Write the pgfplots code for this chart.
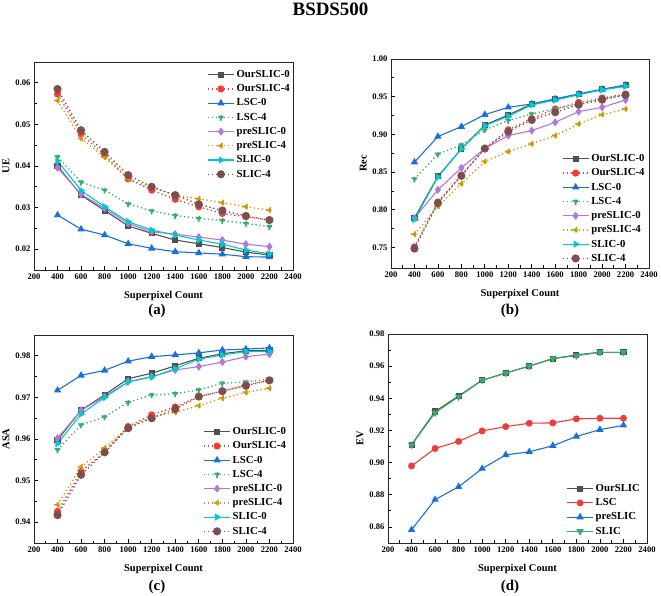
\documentclass[border=0pt]{standalone}
\usepackage{fontspec}
\setmainfont{Liberation Serif}
\usepackage{pgfplots}
\usepackage{pgfplotstable}
\pgfplotsset{compat=1.18}

\definecolor{cOur}{RGB}{80,80,80}
\definecolor{cRed}{RGB}{240,60,60}
\definecolor{cBlue}{RGB}{26,111,223}
\definecolor{cGreen}{RGB}{55,173,107}
\definecolor{cPurple}{RGB}{177,119,222}
\definecolor{cGold}{RGB}{204,153,0}
\definecolor{cCyan}{RGB}{0,203,204}
\definecolor{cBrown}{RGB}{125,78,78}

% UE, Rec, ASA: x, then the eight series
\pgfplotstableread{
x    Our0   Our4   LSC0   LSC4   pre0   pre4   SLIC0  SLIC4
400  0.0400 0.0573 0.0282 0.0422 0.0396 0.0557 0.0412 0.0585
600  0.0330 0.0477 0.0248 0.0361 0.0332 0.0466 0.0341 0.0486
800  0.0293 0.0426 0.0234 0.0342 0.0298 0.0421 0.0302 0.0434
1000 0.0256 0.0369 0.0213 0.0309 0.0262 0.0369 0.0266 0.0378
1200 0.0238 0.0342 0.0202 0.0292 0.0242 0.0348 0.0246 0.0350
1400 0.0222 0.0320 0.0194 0.0281 0.0236 0.0330 0.0234 0.0330
1600 0.0213 0.0302 0.0191 0.0274 0.0229 0.0321 0.0222 0.0308
1800 0.0204 0.0286 0.0188 0.0269 0.0222 0.0312 0.0212 0.0293
2000 0.0193 0.0278 0.0182 0.0262 0.0212 0.0302 0.0198 0.0280
2200 0.0186 0.0270 0.0181 0.0254 0.0206 0.0294 0.0189 0.0270
}\ue

\pgfplotstableread{
x    Our0   Our4   LSC0   LSC4   pre0   pre4   SLIC0  SLIC4
400  0.7890 0.7507 0.8631 0.8407 0.7890 0.7675 0.7869 0.7485
600  0.8442 0.8102 0.8971 0.8737 0.8265 0.8045 0.8433 0.8089
800  0.8808 0.8460 0.9103 0.8860 0.8556 0.8345 0.8808 0.8450
1000 0.9125 0.8812 0.9262 0.9059 0.8812 0.8640 0.9116 0.8812
1200 0.9257 0.9060 0.9359 0.9183 0.8984 0.8772 0.9240 0.9037
1400 0.9403 0.9210 0.9403 0.9271 0.9050 0.8874 0.9390 0.9191
1600 0.9469 0.9337 0.9469 0.9337 0.9160 0.8984 0.9455 0.9293
1800 0.9535 0.9425 0.9535 0.9403 0.9302 0.9138 0.9525 0.9394
2000 0.9597 0.9482 0.9597 0.9469 0.9359 0.9262 0.9590 0.9460
2200 0.9654 0.9535 0.9650 0.9526 0.9456 0.9337 0.9637 0.9522
}\rec

\pgfplotstableread{
x    Our0   Our4   LSC0   LSC4   pre0   pre4   SLIC0  SLIC4
400  0.9598 0.9426 0.9717 0.9574 0.9602 0.9442 0.9589 0.9417
600  0.9669 0.9522 0.9753 0.9634 0.9669 0.9533 0.9660 0.9514
800  0.9706 0.9569 0.9765 0.9653 0.9702 0.9578 0.9700 0.9568
1000 0.9745 0.9630 0.9787 0.9688 0.9738 0.9628 0.9737 0.9626
1200 0.9758 0.9658 0.9798 0.9706 0.9750 0.9653 0.9749 0.9650
1400 0.9776 0.9677 0.9802 0.9709 0.9766 0.9664 0.9769 0.9672
1600 0.9794 0.9702 0.9807 0.9718 0.9774 0.9680 0.9792 0.9702
1800 0.9805 0.9715 0.9814 0.9734 0.9785 0.9698 0.9802 0.9715
2000 0.9812 0.9730 0.9816 0.9737 0.9798 0.9712 0.9810 0.9728
2200 0.9813 0.9741 0.9819 0.9744 0.9804 0.9722 0.9810 0.9741
}\asa

\pgfplotstableread{
x    Our    LSC    pre    SLIC
400  0.9112 0.8979 0.8582 0.9109
600  0.9318 0.9088 0.8770 0.9310
800  0.9415 0.9132 0.8850 0.9410
1000 0.9512 0.9197 0.8963 0.9512
1200 0.9558 0.9224 0.9048 0.9556
1400 0.9600 0.9245 0.9067 0.9600
1600 0.9646 0.9247 0.9105 0.9648
1800 0.9670 0.9272 0.9163 0.9665
2000 0.9686 0.9276 0.9205 0.9686
2200 0.9686 0.9276 0.9232 0.9686
}\ev

\pgfplotsset{
  panel/.style={
    scale only axis, width=259bp, height=208bp,
    xmin=200, xmax=2400, xtick={200,400,...,2400}, minor x tick num=1,
    minor y tick num=1, scaled y ticks=false,
    tick pos=left, tick align=inside,
    major tick length=4bp, minor tick length=2.5bp,
    tick style={black, line width=0.7bp},
    axis line style={black!85, line width=0.8bp},
    /pgf/number format/assume math mode=true,
    ticklabel style={font=\bfseries\fontsize{8.6}{10}\selectfont},
    x tick label style={/pgf/number format/1000 sep={}},
    y tick label style={/pgf/number format/fixed, /pgf/number format/fixed zerofill,
      /pgf/number format/precision=2},
    label style={font=\bfseries\fontsize{10.5}{12}\selectfont},
    xlabel={Superpixel Count},
    xlabel style={at={(axis description cs:0.5,-0.125)}, anchor=center},
    ylabel style={at={(axis description cs:-0.108,0.5)}, anchor=center},
    legend style={draw=none, fill=none, font=\bfseries\fontsize{10.8}{12}\selectfont,
      cells={anchor=west}, row sep=1.6bp, inner sep=1bp},
    legend image code/.code={\draw[mark repeat=2,mark phase=2,#1]
      plot coordinates {(0bp,0bp) (13bp,0bp) (26bp,0bp)};},
  },
  s0/.style={solid, line width=1.1bp, mark options={solid}},
  s4/.style={line width=1.3bp, dash pattern=on 1.3bp off 2.7bp, mark options={solid}},
  eight/.style={
    legend entries={OurSLIC-0,OurSLIC-4,LSC-0,LSC-4,preSLIC-0,preSLIC-4,SLIC-0,SLIC-4},
  },
}

\newcommand{\eightplots}[1]{%
  \addplot[cOur, s0, mark=square*, mark size=2.5bp] table[x=x,y=Our0]{#1};
  \addplot[cRed, s4, mark=*, mark size=2.9bp] table[x=x,y=Our4]{#1};
  \addplot[cBlue, s0, mark=triangle*, mark size=3.2bp] table[x=x,y=LSC0]{#1};
  \addplot[cGreen, s4, mark=triangle*, mark size=3.2bp, mark options={rotate=180}] table[x=x,y=LSC4]{#1};
  \addplot[cPurple, s0, mark=diamond*, mark size=3.2bp] table[x=x,y=pre0]{#1};
  \addplot[cGold, s4, mark=triangle*, mark size=3.2bp, mark options={rotate=90}] table[x=x,y=pre4]{#1};
  \addplot[cCyan, s0, mark=triangle*, mark size=3.2bp, mark options={rotate=-90}] table[x=x,y=SLIC0]{#1};
  \addplot[cBrown, s4, mark=*, mark size=3.4bp] table[x=x,y=SLIC4]{#1};
}

\begin{document}
\begin{tikzpicture}
\path[use as bounding box] (0,0) rectangle (661bp,596bp);

\node[font=\bfseries\fontsize{19}{22}\selectfont, anchor=base] at (330.5bp,580bp) {BSDS500};

% (a) UE
\begin{axis}[panel, eight, at={(34bp,326bp)}, anchor=south west,
  ymin=0.015, ymax=0.065, ytick={0.02,0.03,...,0.06}, ylabel={UE},
  legend style={at={(axis description cs:1.0,0.975)}, anchor=north east}]
\eightplots{\ue}
\end{axis}

% (b) Rec
\begin{axis}[panel, eight, at={(391bp,328bp)}, anchor=south west, width=258bp, height=209bp,
  ymin=0.7227, ymax=1.0, ytick={0.75,0.80,...,1.0}, ylabel={Rec},
  legend style={at={(axis description cs:0.995,0.01)}, anchor=south east}]
\eightplots{\rec}
\end{axis}

% (c) ASA
\begin{axis}[panel, eight, at={(34bp,53bp)}, anchor=south west,
  ymin=0.935, ymax=0.985, ytick={0.94,0.95,...,0.98}, ylabel={ASA},
  legend style={at={(axis description cs:0.985,0.02)}, anchor=south east}]
\eightplots{\asa}
\end{axis}

% (d) EV
\begin{axis}[panel, at={(388bp,53bp)}, anchor=south west, height=209bp,
  ymin=0.85, ymax=0.98, ytick={0.86,0.88,...,0.98}, ylabel={EV},
  legend style={at={(axis description cs:0.985,0.02)}, anchor=south east}]
\addplot[cOur, s0, mark=square*, mark size=2.5bp] table[x=x,y=Our]{\ev};
\addplot[cRed, s0, mark=*, mark size=2.9bp] table[x=x,y=LSC]{\ev};
\addplot[cBlue, s0, mark=triangle*, mark size=3.2bp] table[x=x,y=pre]{\ev};
\addplot[cGreen, s0, mark=triangle*, mark size=3.2bp, mark options={rotate=180}] table[x=x,y=SLIC]{\ev};
\legend{OurSLIC,LSC,preSLIC,SLIC}
\end{axis}

\node[font=\bfseries\fontsize{15}{18}\selectfont, anchor=base] at (157bp,281bp) {(a)};
\node[font=\bfseries\fontsize{15}{18}\selectfont, anchor=base] at (510bp,281bp) {(b)};
\node[font=\bfseries\fontsize{15}{18}\selectfont, anchor=base] at (157bp,6bp) {(c)};
\node[font=\bfseries\fontsize{15}{18}\selectfont, anchor=base] at (510bp,6bp) {(d)};
\end{tikzpicture}
\end{document}
